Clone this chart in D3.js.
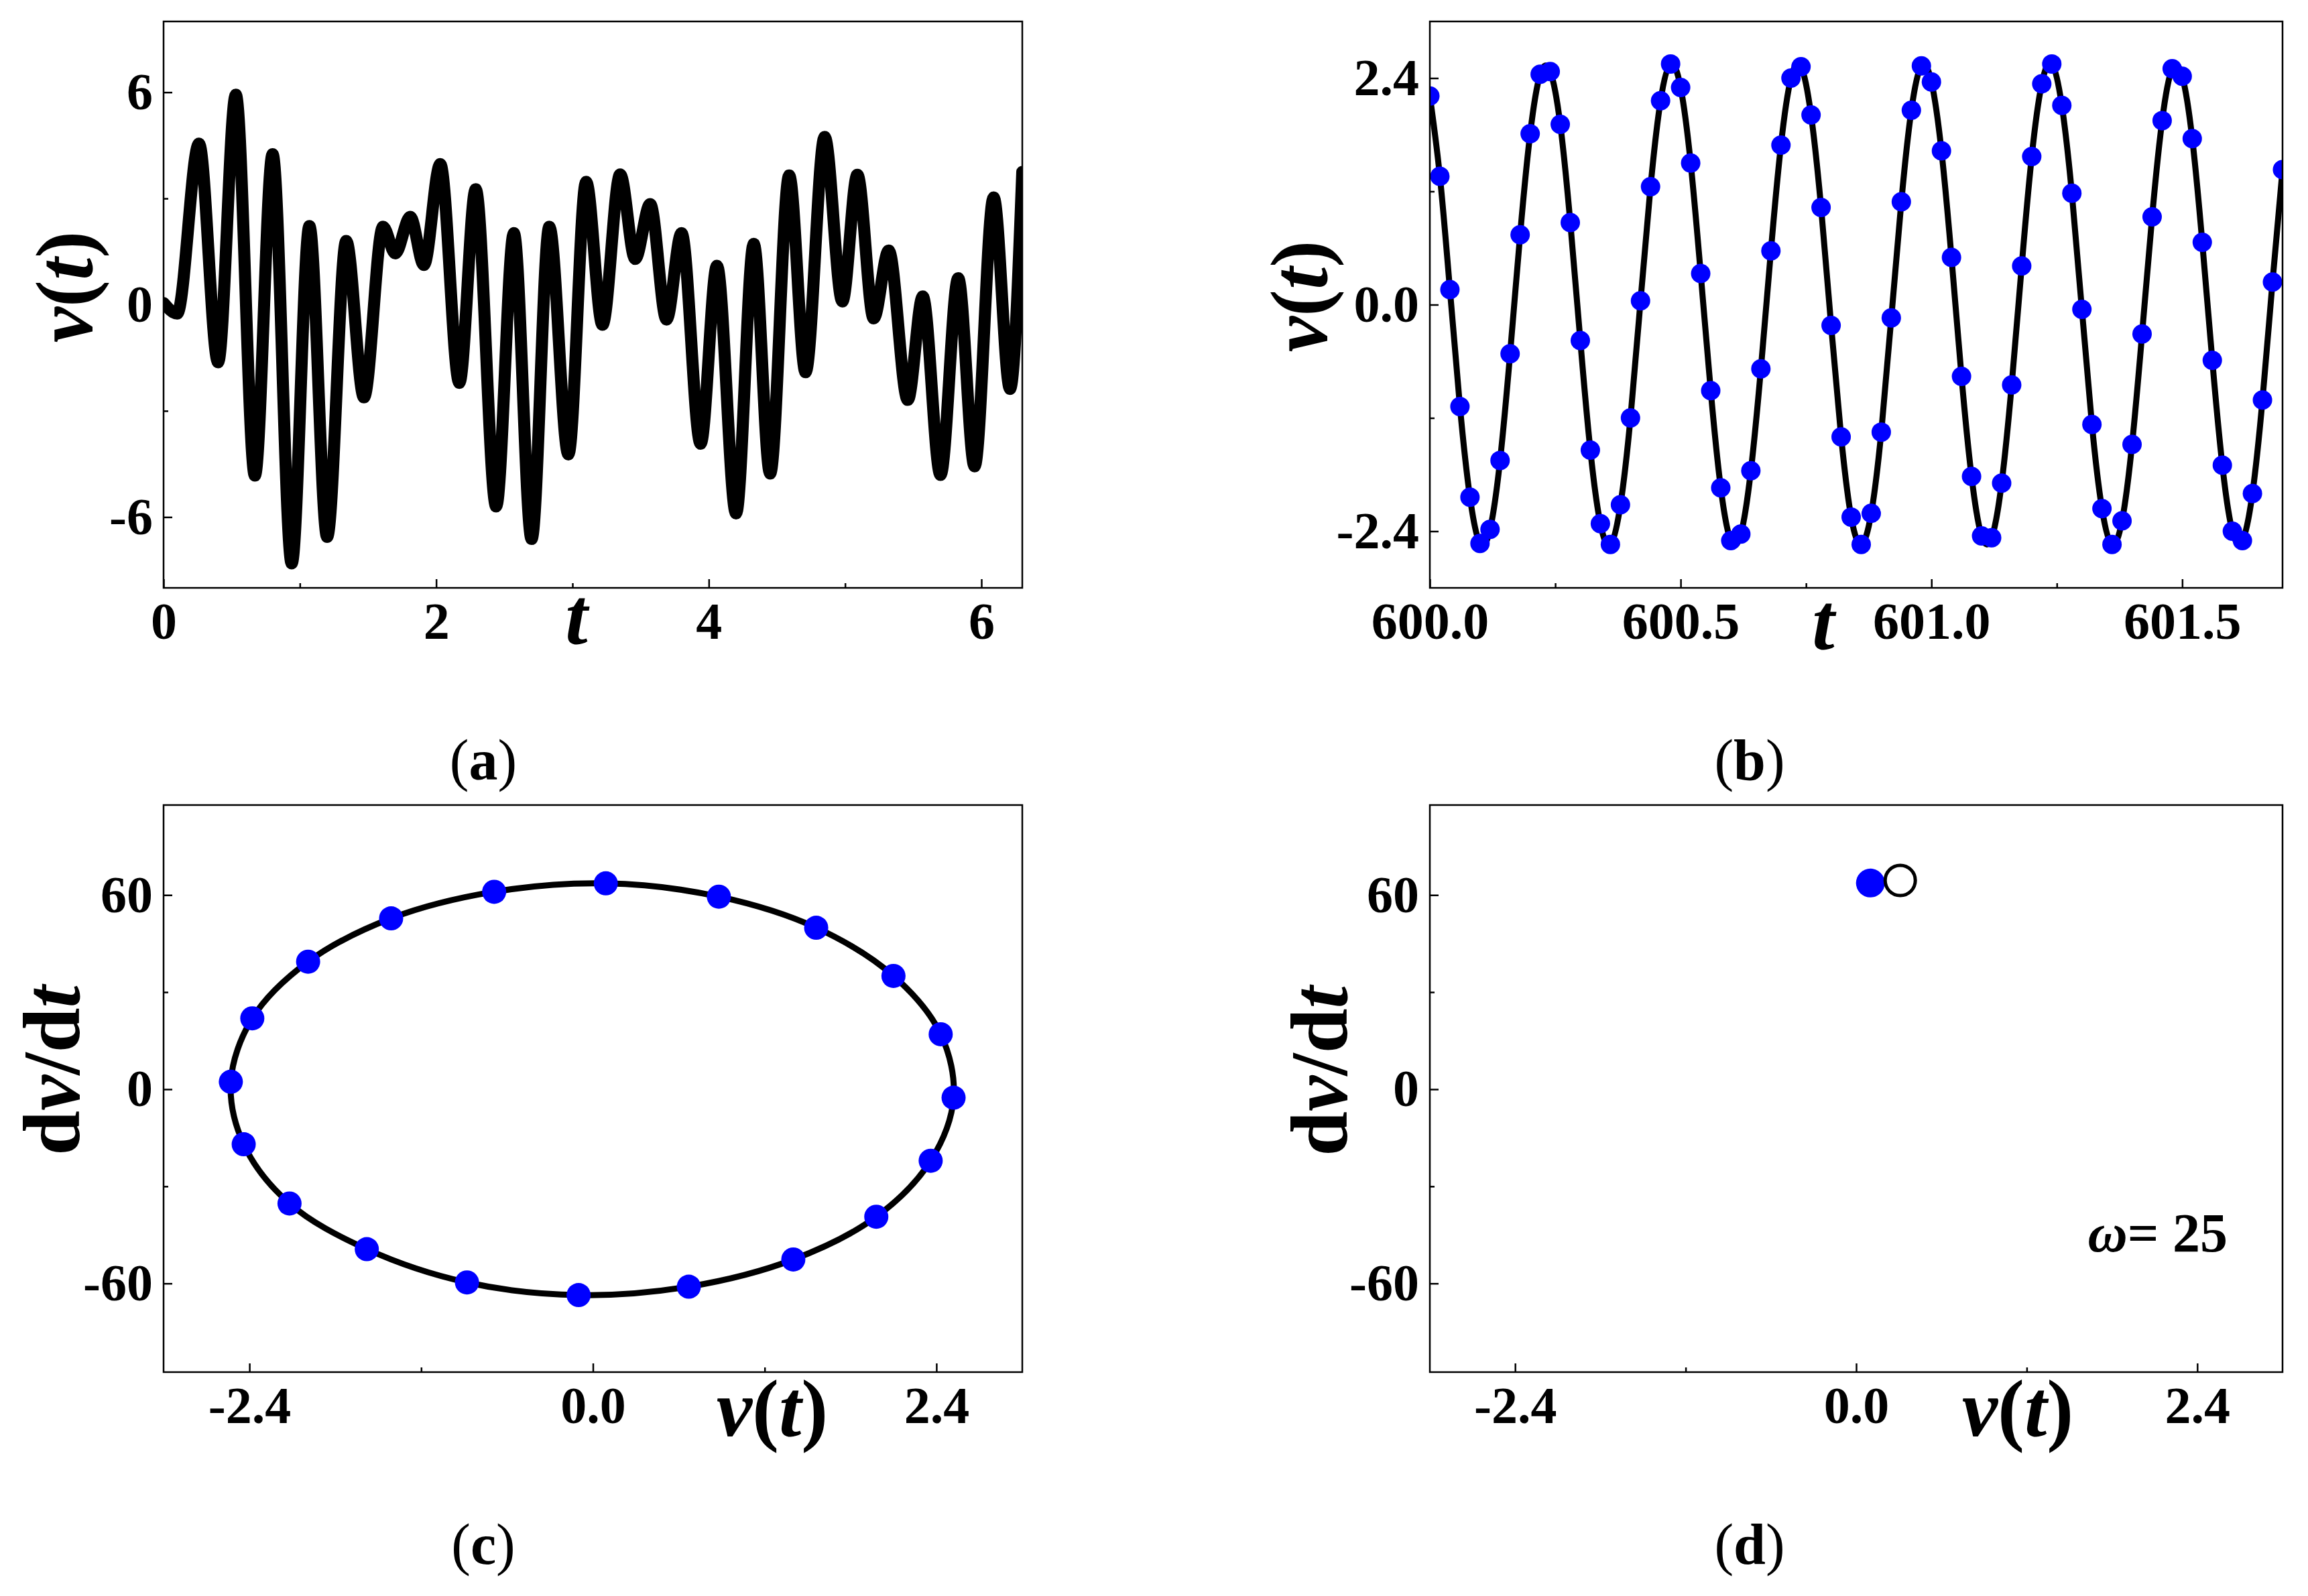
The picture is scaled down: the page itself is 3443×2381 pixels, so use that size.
<!DOCTYPE html>
<html>
<head>
<meta charset="utf-8">
<title>v(t) and phase portraits</title>
<script src="https://d3js.org/d3.v7.min.js"></script>
<style>
body { margin: 0; background: #fff; }
svg { display: block; }
text { font-family: "Liberation Serif", "Times New Roman", serif; fill: #000; }
</style>
</head>
<body>
<div id="chart"></div>
<script>
// ---- data ----
// (a) transient v(t), local extrema of the trace
var aT = [0.00,0.10,0.26,0.40,0.53,0.67,0.80,0.94,1.07,1.20,1.34,1.47,1.61,1.70,1.81,1.91,2.03,2.17,2.29,2.44,2.57,2.70,2.83,2.97,3.10,3.22,3.35,3.46,3.57,3.69,3.80,3.94,4.06,4.20,4.33,4.45,4.59,4.71,4.85,4.98,5.09,5.21,5.32,5.46,5.57,5.70,5.83,5.95,6.09,6.21,6.30];
var aV = [0.05,-0.25,4.55,-1.63,5.93,-4.83,4.25,-7.31,2.22,-6.56,1.80,-2.62,2.20,1.45,2.48,1.12,3.97,-2.21,3.26,-5.70,2.02,-6.62,2.20,-4.23,3.47,-0.57,3.68,1.29,2.84,-0.42,2.02,-3.93,1.10,-5.90,1.72,-4.77,3.65,-1.91,4.74,0.09,3.67,-0.39,1.53,-2.69,0.23,-4.81,0.75,-4.57,3.03,-2.38,3.75];

// (b) steady state samples
var bT = [600.00,600.02,600.04,600.06,600.08,600.10,600.12,600.14,600.16,600.18,
          600.20,600.22,600.24,600.26,600.28,600.30,600.32,600.34,600.36,600.38,
          600.40,600.42,600.44,600.46,600.48,600.50,600.52,600.54,600.56,600.58,
          600.60,600.62,600.64,600.66,600.68,600.70,600.72,600.74,600.76,600.78,
          600.80,600.82,600.84,600.86,600.88,600.90,600.92,600.94,600.96,600.98,
          601.00,601.02,601.04,601.06,601.08,601.10,601.12,601.14,601.16,601.18,
          601.20,601.22,601.24,601.26,601.28,601.30,601.32,601.34,601.36,601.38,
          601.40,601.42,601.44,601.46,601.48,601.50,601.52,601.54,601.56,601.58,
          601.60,601.62,601.64,601.66,601.68,601.70];
var bV = [2.21,1.36,0.16,-1.08,-2.04,-2.53,-2.38,-1.65,-0.52,0.74,
          1.81,2.44,2.47,1.91,0.87,-0.38,-1.54,-2.32,-2.54,-2.12,
          -1.20,0.04,1.25,2.16,2.55,2.30,1.50,0.33,-0.91,-1.94,
          -2.50,-2.43,-1.76,-0.68,0.57,1.69,2.40,2.52,2.01,1.03,
          -0.22,-1.40,-2.25,-2.54,-2.21,-1.35,-0.14,1.09,2.06,2.53,
          2.36,1.63,0.50,-0.76,-1.82,-2.45,-2.47,-1.89,-0.85,0.41,
          1.57,2.34,2.55,2.11,1.18,-0.05,-1.27,-2.16,-2.54,-2.29,
          -1.48,-0.31,0.93,1.95,2.50,2.42,1.76,0.66,-0.59,-1.70,
          -2.40,-2.50,-2.00,-1.01,0.24,1.43];

// (c) phase portrait samples
var cV  = [0.09,0.88,1.56,2.10,2.43,2.52,2.36,1.98,1.40,0.67,-0.10,-0.88,-1.58,-2.12,-2.44,-2.53,-2.38,-1.99,-1.41,-0.69];
var cDV = [63.6,59.5,49.9,35.0,17.0,-2.6,-22.1,-39.4,-52.6,-61.0,-63.6,-59.7,-49.4,-35.3,-17.0,2.3,21.9,39.4,52.8,61.0];

// (d) Poincare points
var dFilledV = [0.10], dFilledDV = [63.7];
var dOpenV = [0.31], dOpenDV = [64.5];
var omegaLabel = "25";

// ticks
var aXTicks = [0,2,4,6], aXLabels = ["0","2","4","6"], aXMinor = [1,3,5];
var aYTicks = [6,0,-6], aYLabels = ["6","0","-6"], aYMinor = [3,-3];
var bXTicks = [600.0,600.5,601.0,601.5], bXLabels = ["600.0","600.5","601.0","601.5"], bXMinor = [600.25,600.75,601.25];
var bYTicks = [2.4,0,-2.4], bYLabels = ["2.4","0.0","-2.4"], bYMinor = [1.2,-1.2];
var pXTicks = [-2.4,0,2.4], pXLabels = ["-2.4","0.0","2.4"], pXMinor = [-1.2,1.2];
var pYTicks = [60,0,-60], pYLabels = ["60","0","-60"], pYMinor = [30,-30];

// ---- drawing ----
var width = 3443, height = 2381;
var blue = '#0000ff';

var svg = d3.select('#chart').append('svg')
	.attr('width', width)
	.attr('height', height);
svg.append('rect').attr('width', width).attr('height', height).attr('fill', '#fff');

function styleAxis(sel) {
	sel.select('.domain').remove();
	sel.selectAll('line').attr('stroke', '#000').attr('stroke-width', 2.5);
	sel.selectAll('text').attr('font-size', 78).attr('font-weight', 'bold').attr('fill', '#000');
}

function panel(p) {
	var x = d3.scaleLinear().domain(p.xDomain).range([p.left, p.right]);
	var y = d3.scaleLinear().domain(p.yDomain).range([p.bottom, p.top]);
	var g = svg.append('g');

	g.append('clipPath').attr('id', 'clip-' + p.id)
		.append('rect')
		.attr('x', p.left).attr('y', p.top)
		.attr('width', p.right - p.left).attr('height', p.bottom - p.top);

	g.append('g').attr('transform', 'translate(0,' + p.bottom + ')')
		.call(d3.axisBottom(x).tickValues(p.xTicks).tickFormat(function(d, i){ return p.xLabels[i]; })
			.tickSizeInner(-13).tickSizeOuter(0).tickPadding(21))
		.call(styleAxis);
	g.append('g').attr('transform', 'translate(0,' + p.bottom + ')')
		.call(d3.axisBottom(x).tickValues(p.xMinor).tickFormat('').tickSizeInner(-7).tickSizeOuter(0))
		.call(styleAxis);
	g.append('g').attr('transform', 'translate(' + p.left + ',0)')
		.call(d3.axisLeft(y).tickValues(p.yTicks).tickFormat(function(d, i){ return p.yLabels[i]; })
			.tickSizeInner(-13).tickSizeOuter(0).tickPadding(16))
		.call(styleAxis);
	g.append('g').attr('transform', 'translate(' + p.left + ',0)')
		.call(d3.axisLeft(y).tickValues(p.yMinor).tickFormat('').tickSizeInner(-7).tickSizeOuter(0))
		.call(styleAxis);

	var plot = g.append('g').attr('clip-path', 'url(#clip-' + p.id + ')');
	var frame = g.append('rect')
		.attr('x', p.left).attr('y', p.top)
		.attr('width', p.right - p.left).attr('height', p.bottom - p.top)
		.attr('fill', 'none').attr('stroke', '#000').attr('stroke-width', 2.5);

	return { x: x, y: y, g: g, plot: plot, frame: frame };
}

// mixed italic / upright label
function label(parts, x, y, size, rotate, anchor) {
	var t = svg.append('text')
		.attr('transform', 'translate(' + x + ',' + y + ')' + (rotate ? ' rotate(-90)' : ''))
		.attr('text-anchor', anchor || 'middle')
		.attr('font-size', size);
	parts.forEach(function(s) {
		t.append('tspan').text(s[0])
			.attr('font-style', s[1] ? 'italic' : 'normal')
			.attr('font-weight', s[2] === false ? 'normal' : 'bold');
	});
	return t;
}

var vOfT = [['v',1],['(',0],['t',1],[')',0]];
var dvdt = [['d',0],['v',1],['/d',0],['t',1]];

// (a)
var A = panel({ id:'a', left:244, right:1525, top:32, bottom:877,
	xDomain:[0, 6.3], yDomain:[-8, 8],
	xTicks:aXTicks, xLabels:aXLabels, xMinor:aXMinor,
	yTicks:aYTicks, yLabels:aYLabels, yMinor:aYMinor });
A.plot.append('path')
	.datum(d3.range(aT.length))
	.attr('d', d3.line().x(function(i){ return A.x(aT[i]); }).y(function(i){ return A.y(aV[i]); }).curve(d3.curveMonotoneX))
	.attr('fill', 'none').attr('stroke', '#000').attr('stroke-width', 18)
	.attr('stroke-linejoin', 'round').attr('stroke-linecap', 'round');
label(vOfT, 137, 428, 120, true);
label([['t',1]], 860, 960, 120, false);
label([['(',0,false],['a',0],[')',0,false]], 721, 1163, 86, false);

// (b)
var B = panel({ id:'b', left:2133, right:3405, top:32, bottom:877,
	xDomain:[600, 601.7], yDomain:[-3, 3],
	xTicks:bXTicks, xLabels:bXLabels, xMinor:bXMinor,
	yTicks:bYTicks, yLabels:bYLabels, yMinor:bYMinor });
B.plot.append('path')
	.datum(d3.range(bT.length))
	.attr('d', d3.line().x(function(i){ return B.x(bT[i]); }).y(function(i){ return B.y(bV[i]); }).curve(d3.curveNatural))
	.attr('fill', 'none').attr('stroke', '#000').attr('stroke-width', 9)
	.attr('stroke-linejoin', 'round');
B.plot.selectAll('circle')
	.data(d3.range(bT.length))
	.enter().append('circle')
	.attr('cx', function(i){ return B.x(bT[i]); })
	.attr('cy', function(i){ return B.y(bV[i]); })
	.attr('r', 14.5)
	.attr('fill', blue);
label(vOfT, 1979, 442, 120, true);
label([['t',1]], 2720, 968, 120, false);
label([['(',0,false],['b',0],[')',0,false]], 2610, 1163, 86, false);

// (c)
var C = panel({ id:'c', left:244, right:1525, top:1201, bottom:2047,
	xDomain:[-3, 3], yDomain:[-87.4, 87.8],
	xTicks:pXTicks, xLabels:pXLabels, xMinor:pXMinor,
	yTicks:pYTicks, yLabels:pYLabels, yMinor:pYMinor });
C.plot.append('path')
	.datum(d3.range(cV.length))
	.attr('d', d3.line().x(function(i){ return C.x(cV[i]); }).y(function(i){ return C.y(cDV[i]); }).curve(d3.curveCatmullRomClosed))
	.attr('fill', 'none').attr('stroke', '#000').attr('stroke-width', 9);
C.plot.selectAll('circle')
	.data(d3.range(cV.length))
	.enter().append('circle')
	.attr('cx', function(i){ return C.x(cV[i]); })
	.attr('cy', function(i){ return C.y(cDV[i]); })
	.attr('r', 18)
	.attr('fill', blue);
label(dvdt, 118, 1597, 120, true);
label(vOfT, 1152, 2142, 120, false);
label([['(',0,false],['c',0],[')',0,false]], 721, 2333, 86, false);

// (d)
var D = panel({ id:'d', left:2133, right:3405, top:1201, bottom:2047,
	xDomain:[-3, 3], yDomain:[-87.4, 87.8],
	xTicks:pXTicks, xLabels:pXLabels, xMinor:pXMinor,
	yTicks:pYTicks, yLabels:pYLabels, yMinor:pYMinor });
D.plot.selectAll('circle.filled')
	.data(d3.range(dFilledV.length))
	.enter().append('circle')
	.attr('class', 'filled')
	.attr('cx', function(i){ return D.x(dFilledV[i]); })
	.attr('cy', function(i){ return D.y(dFilledDV[i]); })
	.attr('r', 21.5)
	.attr('fill', blue);
D.plot.selectAll('circle.open')
	.data(d3.range(dOpenV.length))
	.enter().append('circle')
	.attr('class', 'open')
	.attr('cx', function(i){ return D.x(dOpenV[i]); })
	.attr('cy', function(i){ return D.y(dOpenDV[i]); })
	.attr('r', 22.5)
	.attr('fill', '#fff').attr('stroke', '#000').attr('stroke-width', 5);
label([['ω',1],['= ' + omegaLabel,0]], 3323, 1867, 82, false, 'end');
label(dvdt, 2009, 1598, 120, true);
label(vOfT, 3010, 2142, 120, false);
label([['(',0,false],['d',0],[')',0,false]], 2610, 2333, 86, false);
</script>
</body>
</html>
